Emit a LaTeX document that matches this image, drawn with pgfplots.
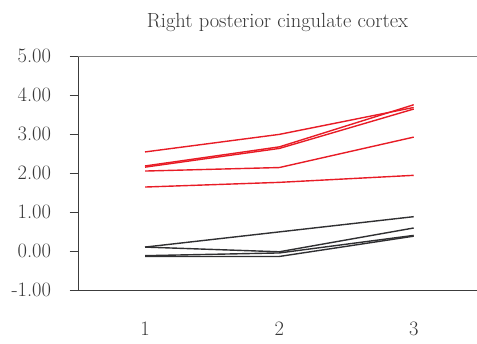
\documentclass[border=0pt]{standalone}
\usepackage{fontspec}
\usepackage{pgfplots}
\pgfplotsset{compat=1.18}
\definecolor{redline}{RGB}{232,28,38}
\definecolor{darkline}{RGB}{48,48,50}
\definecolor{axisdark}{RGB}{60,60,60}
\definecolor{axislight}{RGB}{130,130,130}
\definecolor{labeltext}{RGB}{55,55,55}
\begin{document}
\begin{tikzpicture}
\begin{axis}[
  width=399pt, height=234pt, scale only axis,
  xmin=0.501, xmax=3.471, ymin=-1, ymax=5,
  axis x line*=bottom, axis y line*=left,
  axis line style={draw=axisdark, line width=0.9pt},
  xtick={1,2,3},
  xticklabels={1,2,3},
  x tick style={draw=none},
  xticklabel style={anchor=base, yshift=-37pt},
  ytick={-1,0,1,2,3,4,5},
  yticklabels={-1.00,0.00,1.00,2.00,3.00,4.00,5.00},
  y tick style={draw=axisdark, line width=0.9pt},
  tick align=outside,
  major tick length=8.4pt,
  yticklabel style={anchor=east, xshift=-15pt},
  tick label style={font=\fontsize{20.5}{24}\selectfont, text=labeltext},
  clip=false,
]
\coordinate (bl) at (rel axis cs:0,0);
\coordinate (tr) at (rel axis cs:1,1);
\draw[axislight, line width=0.9pt] (rel axis cs:0,1) -- (rel axis cs:1,1);
\node[anchor=base, font=\fontsize{20.5}{24}\selectfont, text=labeltext]
  at ([yshift=28pt]rel axis cs:0.5,1) {Right posterior cingulate cortex};

% patient group
\addplot[redline, line width=1.4pt] coordinates {(1,2.54) (2,2.99) (3,3.68)};
\addplot[redline, line width=1.4pt] coordinates {(1,2.18) (2,2.67) (3,3.75)};
\addplot[redline, line width=1.4pt] coordinates {(1,2.15) (2,2.63) (3,3.64)};
\addplot[redline, line width=1.4pt] coordinates {(1,2.05) (2,2.14) (3,2.92)};
\addplot[redline, line width=1.4pt] coordinates {(1,1.64) (2,1.76) (3,1.94)};
% control group
\addplot[darkline, line width=1.4pt] coordinates {(1,0.10) (2,0.49) (3,0.88)};
\addplot[darkline, line width=1.4pt] coordinates {(1,0.10) (2,-0.02) (3,0.59)};
\addplot[darkline, line width=1.4pt] coordinates {(1,-0.12) (2,-0.05) (3,0.40)};
\addplot[darkline, line width=1.4pt] coordinates {(1,-0.14) (2,-0.14) (3,0.38)};
\end{axis}
\pgfresetboundingbox
\path[use as bounding box] ([xshift=-78pt,yshift=-54pt]bl) rectangle ([yshift=56pt]tr);
\end{tikzpicture}
\end{document}
